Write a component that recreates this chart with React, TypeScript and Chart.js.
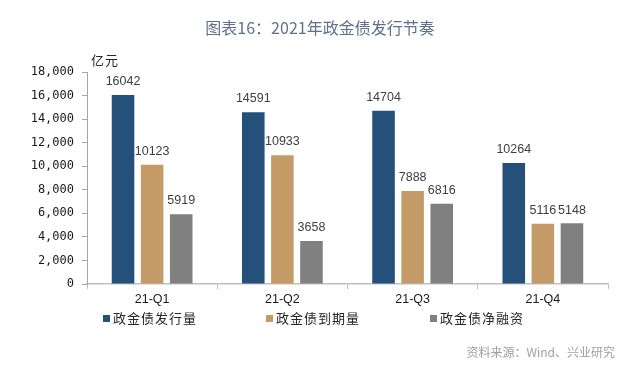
import React, { useEffect, useRef } from "react";
import { Chart, registerables } from "chart.js";

Chart.register(...registerables);

const categories = ["21-Q1", "21-Q2", "21-Q3", "21-Q4"];
const seriesNames = ["政金债发行量", "政金债到期量", "政金债净融资"];
const issuance = [16042, 14591, 14704, 10264];
const maturity = [10123, 10933, 7888, 5116];
const netFinancing = [5919, 3658, 6816, 5148];
const colors = ["#24507a", "#c49b67", "#808080"];
const yMax = 18000;
const yStep = 2000;

const labelPlugin = {
  id: "barLabels",
  afterDatasetsDraw(chart: any) {
    const ctx = chart.ctx;
    ctx.save();
    ctx.font = "12.5px 'Liberation Sans', 'Noto Sans', sans-serif";
    ctx.fillStyle = "#404040";
    ctx.textAlign = "center";
    ctx.textBaseline = "bottom";
    chart.data.datasets.forEach((ds: any, i: number) => {
      const meta = chart.getDatasetMeta(i);
      meta.data.forEach((bar: any, j: number) => {
        ctx.fillText(String(ds.data[j]), bar.x, bar.y - 7);
      });
    });
    ctx.restore();
  },
};

export default function App() {
  const ref = useRef<HTMLCanvasElement | null>(null);
  useEffect(() => {
    if (!ref.current) return;
    const chart = new Chart(ref.current, {
      type: "bar",
      data: {
        labels: categories,
        datasets: [issuance, maturity, netFinancing].map((d, i) => ({
          label: seriesNames[i],
          data: d,
          backgroundColor: colors[i],
          categoryPercentage: 0.67,
          barPercentage: 0.776,
        })),
      },
      options: {
        animation: false,
        responsive: false,
        maintainAspectRatio: false,
        layout: { padding: { left: 0, right: 32, top: 72, bottom: 0 } },
        plugins: { legend: { display: false }, tooltip: { enabled: false }, title: { display: false } },
        scales: {
          x: {
            afterFit: (s: any) => {
              s.height = 81;
            },
            grid: { display: true, drawOnChartArea: false, tickLength: 5, color: "#bfbfbf" },
            border: { color: "#bfbfbf", width: 1.5 },
            ticks: {
              color: "#1a1a1a",
              padding: 3,
              font: { family: "'Liberation Sans', sans-serif", size: 12.5 },
            },
          },
          y: {
            min: 0,
            max: yMax,
            afterFit: (s: any) => {
              s.width = 87;
            },
            grid: { display: true, drawOnChartArea: false, tickLength: 5, color: "#a6a6a6" },
            border: { color: "#a6a6a6", width: 1 },
            ticks: {
              stepSize: yStep,
              color: "#1a1a1a",
              padding: 8,
              font: { family: "'DejaVu Sans Mono', monospace", size: 12 },
              callback: (v: any) => Number(v).toLocaleString("en-US"),
            },
          },
        },
      },
      plugins: [labelPlugin],
    });
    return () => chart.destroy();
  }, []);

  const legendX = [103, 266, 430];
  return (
    <div
      style={{
        position: "fixed",
        left: 0,
        top: 0,
        width: 640,
        height: 365,
        background: "#ffffff",
        overflow: "hidden",
        fontFamily: "'Noto Sans CJK SC', sans-serif",
      }}
    >
      <canvas ref={ref} width={640} height={365} style={{ position: "absolute", left: 0, top: 0 }} />
      <div
        style={{
          position: "absolute",
          left: 0,
          width: 640,
          top: 16,
          textAlign: "center",
          fontSize: 16,
          lineHeight: "22px",
          color: "#5f7089",
        }}
      >
        图表16：2021年政金债发行节奏
      </div>
      <div style={{ position: "absolute", left: 91, top: 51, fontSize: 13, lineHeight: "18px", color: "#262626", letterSpacing: 1 }}>
        亿元
      </div>
      {seriesNames.map((n, i) => (
        <div
          key={n}
          style={{
            position: "absolute",
            left: legendX[i],
            top: 309,
            fontSize: 13,
            lineHeight: "18px",
            color: "#262626",
            letterSpacing: 1,
            display: "flex",
            alignItems: "center",
          }}
        >
          <span style={{ display: "inline-block", width: 7, height: 7, background: colors[i], marginRight: 3 }} />
          {n}
        </div>
      ))}
      <div
        style={{
          position: "absolute",
          right: 25,
          top: 343,
          fontSize: 12,
          lineHeight: "17px",
          color: "#a0a0a0",
        }}
      >
        资料来源：Wind、兴业研究
      </div>
    </div>
  );
}
